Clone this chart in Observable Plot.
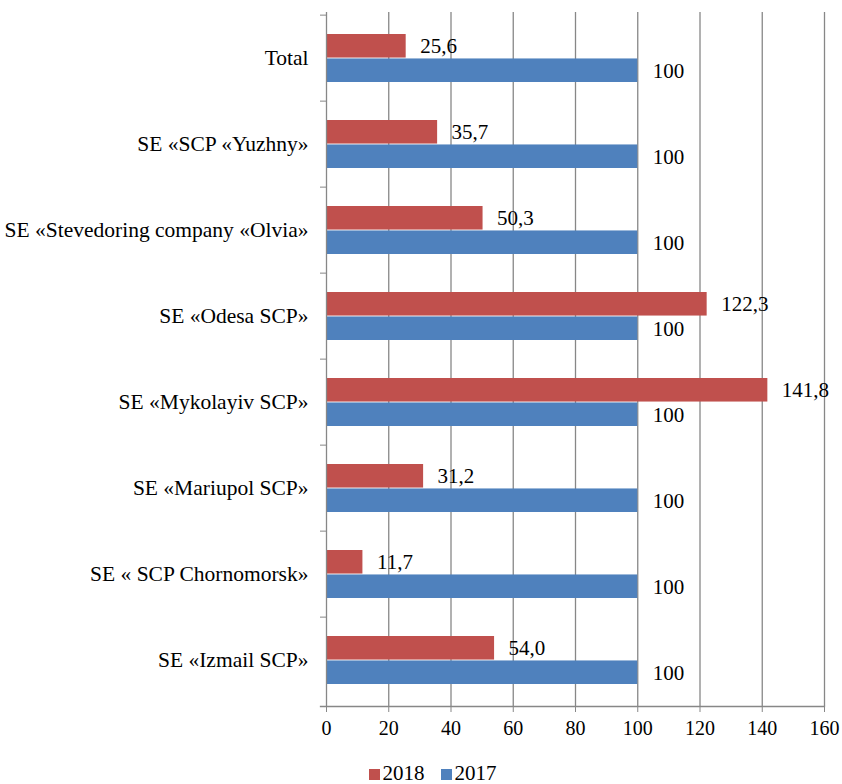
<!DOCTYPE html>
<html><head><meta charset="utf-8">
<script src="https://cdn.jsdelivr.net/npm/d3@7"></script>
<script src="https://cdn.jsdelivr.net/npm/@observablehq/plot@0.6"></script>
<style>
body{margin:0;background:#fff;font-family:'Liberation Serif','Times New Roman',serif;overflow:hidden;}
#chart svg{display:block;}
#legend{display:flex;justify-content:center;align-items:center;gap:16px;font-size:21px;line-height:21px;color:#000;padding-left:23px;height:21px;margin-top:11px;font-family:'Liberation Serif','Times New Roman',serif;}
#legend span.sw{display:inline-block;width:11px;height:11px;margin-right:3px;}
</style>
</head><body>
<div id="chart"></div>
<div id="legend"></div>
<script>
const categories = ["Total","SE «SCP «Yuzhny»","SE «Stevedoring company «Olvia»","SE «Odesa SCP»","SE «Mykolayiv SCP»","SE «Mariupol SCP»","SE « SCP Chornomorsk»","SE «Izmail SCP»"];
const values2018 = [25.6,35.7,50.3,122.3,141.8,31.2,11.7,54.0];
const values2017 = [100,100,100,100,100,100,100,100];
const xTicks = [0,20,40,60,80,100,120,140,160];
const seriesNames = ["2018","2017"];
const seriesColors = ["#C0504D","#4F81BD"];

const W = 842, H = 752, mT = 12, mB = 46, mL = 326, mR = 18;
const bw = (H - mT - mB) / categories.length;
const gray = "#878787";
const FONT = "'Liberation Serif', 'Times New Roman', serif";

const rows2018 = categories.map((c,i)=>({category:c, value:values2018[i]}));
const rows2017 = categories.map((c,i)=>({category:c, value:values2017[i]}));
const fmt2018 = v => v.toFixed(1).replace(".", ",");
const fmt2017 = v => String(v);

const chart = Plot.plot({
  width: W, height: H,
  marginTop: mT, marginBottom: mB, marginLeft: mL, marginRight: mR,
  style: {fontFamily: FONT, fontSize: "21px", color: "#000", background: "#fff"},
  x: {domain: [0,160], label: null},
  y: {domain: categories, padding: 0, label: null},
  marks: [
    Plot.ruleX(xTicks.slice(1), {stroke: gray, strokeWidth: 1.3}),
    Plot.barX(rows2018, {x: "value", y: "category", fill: seriesColors[0], insetTop: 19, insetBottom: bw - 19 - 24.3}),
    Plot.barX(rows2017, {x: "value", y: "category", fill: seriesColors[1], insetTop: bw - 19 - 24.3, insetBottom: 19}),
    Plot.text(rows2018, {x: "value", y: "category", text: d => fmt2018(d.value), dx: 14, dy: -12, textAnchor: "start", fill: "#000", fontSize: 21, fontFamily: FONT}),
    Plot.text(rows2017, {x: "value", y: "category", text: d => fmt2017(d.value), dx: 15, dy: 13, textAnchor: "start", fill: "#000", fontSize: 21, fontFamily: FONT}),
    Plot.ruleX([0], {stroke: gray, strokeWidth: 1.3}),
    Plot.frame({anchor: "bottom", stroke: gray, strokeWidth: 1.3, insetLeft: -6}),
    Plot.axisX({ticks: xTicks, tickSize: 6, tickPadding: 8, stroke: gray, fill: "#000", tickFormat: d => String(d), label: null, fontSize: 20, fontFamily: FONT}),
    Plot.axisY({tickSize: 6, tickFormat: () => "", stroke: gray, dy: -bw/2, label: null}),
    Plot.axisY({tickSize: 0, tickPadding: 18, fill: "#000", label: null, fontSize: 21.5, fontFamily: FONT})
  ]
});
document.getElementById("chart").appendChild(chart);

const legend = document.getElementById("legend");
seriesNames.forEach((s,i) => {
  const item = document.createElement("span");
  item.innerHTML = `<span class="sw" style="background:${seriesColors[i]}"></span>${s}`;
  legend.appendChild(item);
});
</script>
</body></html>
